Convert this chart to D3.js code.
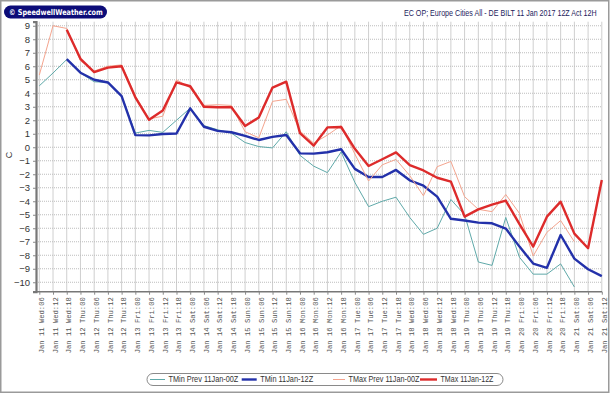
<!DOCTYPE html>
<html>
<head>
<meta charset="utf-8">
<script src="https://cdn.jsdelivr.net/npm/d3@7"></script>
<style>
  html, body { margin: 0; padding: 0; background: #fff; }
  svg { display: block; }
</style>
</head>
<body>
<div id="VisualBox"></div>
<script>
var categories = [
    'Jan 11 Wed:06', 'Jan 11 Wed:12', 'Jan 11 Wed:18',
    'Jan 12 Thu:00', 'Jan 12 Thu:06', 'Jan 12 Thu:12', 'Jan 12 Thu:18',
    'Jan 13 Fri:00', 'Jan 13 Fri:06', 'Jan 13 Fri:12', 'Jan 13 Fri:18',
    'Jan 14 Sat:00', 'Jan 14 Sat:06', 'Jan 14 Sat:12', 'Jan 14 Sat:18',
    'Jan 15 Sun:00', 'Jan 15 Sun:06', 'Jan 15 Sun:12', 'Jan 15 Sun:18',
    'Jan 16 Mon:00', 'Jan 16 Mon:06', 'Jan 16 Mon:12', 'Jan 16 Mon:18',
    'Jan 17 Tue:00', 'Jan 17 Tue:06', 'Jan 17 Tue:12', 'Jan 17 Tue:18',
    'Jan 18 Wed:00', 'Jan 18 Wed:06', 'Jan 18 Wed:12', 'Jan 18 Wed:18',
    'Jan 19 Thu:00', 'Jan 19 Thu:06', 'Jan 19 Thu:12', 'Jan 19 Thu:18',
    'Jan 20 Fri:00', 'Jan 20 Fri:06', 'Jan 20 Fri:12', 'Jan 20 Fri:18',
    'Jan 21 Sat:00', 'Jan 21 Sat:06', 'Jan 21 Sat:12'
];

var tminPrev = [4.55, 5.5, 6.5, 5.5, 4.85, 4.8, 3.8, 1.05, 1.25, 1.1, 2.0,
    2.9, 1.6, 1.3, 1.05, 0.35, 0.05, -0.05, 1.15, -0.6, -1.4,
    -1.88, -0.35, -2.6, -4.4, -4.0, -3.7, -5.2, -6.45, -6.0, -3.87,
    -5.0, -8.5, -8.75, -5.2, -8.15, -9.4, -9.4, -8.64, -10.35, null, null];

var tmin = [null, null, 6.52, 5.52, 5.0, 4.8, 3.78, 0.9, 0.88, 0.98, 1.02,
    2.88, 1.52, 1.21, 1.11, 0.84, 0.54, 0.77, 0.91, -0.45, -0.47,
    -0.37, -0.15, -1.6, -2.2, -2.2, -1.68, -2.45, -2.85, -3.66, -5.3,
    -5.43, -5.58, -5.63, -6.02, -7.36, -8.62, -8.93, -6.5, -8.25, -9.04, -9.55];

var tmaxPrev = [5.35, 9.0, 8.8, 6.4, 5.65, 6.0, 6.1, 3.8, 2.1, 2.3, 5.0,
    4.4, 3.1, 3.15, 3.1, 1.15, 0.7, 3.4, 3.55, 1.2, 0.3,
    0.9, 1.6, -0.5, -2.5, -1.3, -0.9, -2.1, -3.6, -1.44, -1.05,
    -3.66, -4.6, -4.77, -3.5, -4.9, -8.05, -6.3, -5.43, -7.0, null, null];

var tmax = [null, null, 8.7, 6.55, 5.57, 5.9, 6.0, 3.7, 2.03, 2.72, 4.8,
    4.52, 3.0, 2.96, 2.96, 1.58, 2.2, 4.42, 4.86, 1.05, 0.12,
    1.47, 1.5, -0.12, -1.39, -0.89, -0.38, -1.33, -1.72, -2.26, -2.55,
    -5.14, -4.6, -4.25, -3.95, -5.7, -7.36, -5.14, -4.03, -6.4, -7.48, -2.42];

var yTicks = [9, 8, 7, 6, 5, 4, 3, 2, 1, 0, -1, -2, -3, -4, -5, -6, -7, -8, -9, -10];

var seriesNames = ['TMin Prev 11Jan-00Z', 'TMin 11Jan-12Z', 'TMax Prev 11Jan-00Z', 'TMax 11Jan-12Z'];

var series = [
    { name: seriesNames[0], values: tminPrev, color: '#5fa9a9', width: 1 },
    { name: seriesNames[1], values: tmin, color: '#2331aa', width: 2.4 },
    { name: seriesNames[2], values: tmaxPrev, color: '#f4a48e', width: 1 },
    { name: seriesNames[3], values: tmax, color: '#dd2b2b', width: 2.4 }
];

var svgWidth = 610;
var svgHeight = 394;
var plotLeft = 36, plotTop = 21.7, plotBottom = 291.7, plotRight = 602;

// squeeze a text horizontally so it spans the given width
function fitText(sel, width, anchorX) {
    var w = sel.node().getComputedTextLength();
    var k = Math.min(1, width / w);
    sel.attr('transform', 'translate(' + anchorX + ',0) scale(' + k + ',1) translate(' + (-anchorX) + ',0)');
}

var svg = d3.select('#VisualBox').append('svg')
    .attr('width', svgWidth)
    .attr('height', svgHeight);

svg.append('rect')
    .attr('x', 0.75).attr('y', 0.75)
    .attr('width', svgWidth - 2).attr('height', svgHeight - 2.5)
    .attr('fill', '#fff')
    .attr('stroke', '#9a9a9a')
    .attr('stroke-width', 1.5);

var x = d3.scalePoint()
    .domain(categories)
    .range([39.3, 601.8]);

var y = d3.scaleLinear()
    .domain([-10.7, 9.3])
    .range([plotBottom, plotTop]);

// grid
svg.append('g')
    .selectAll('line')
    .data(categories)
    .enter()
    .append('line')
    .attr('x1', function (d) { return x(d); })
    .attr('x2', function (d) { return x(d); })
    .attr('y1', plotTop)
    .attr('y2', plotBottom)
    .attr('stroke', '#cfcfcf')
    .attr('stroke-width', 1);

svg.append('g')
    .selectAll('line')
    .data(yTicks)
    .enter()
    .append('line')
    .attr('x1', plotLeft)
    .attr('x2', plotRight)
    .attr('y1', function (d) { return y(d); })
    .attr('y2', function (d) { return y(d); })
    .attr('stroke', '#bdbdbd')
    .attr('stroke-width', 1)
    .attr('stroke-dasharray', '1,1');

// axes
var yAxis = svg.append('g')
    .attr('transform', 'translate(' + plotLeft + ',0)')
    .call(d3.axisLeft(y).tickValues(yTicks).tickSize(3).tickPadding(3).tickFormat(d3.format('d')));
yAxis.select('.domain').attr('stroke', '#777').attr('stroke-width', 2.2);
yAxis.selectAll('.tick line').attr('stroke', '#888');
yAxis.selectAll('.tick text')
    .attr('fill', '#333')
    .style('font-family', 'Liberation Sans, Arial, sans-serif')
    .style('font-size', '9.5px');

var xAxis = svg.append('g')
    .attr('transform', 'translate(0,' + plotBottom + ')')
    .call(d3.axisBottom(x).tickSize(3).tickFormat(''));
xAxis.select('.domain')
    .attr('d', 'M' + plotLeft + ',0H' + plotRight)
    .attr('stroke', '#777').attr('stroke-width', 1.6);
xAxis.selectAll('.tick line').attr('stroke', '#888');

svg.append('g')
    .selectAll('text')
    .data(categories)
    .enter()
    .append('text')
    .attr('transform', function (d) {
        return 'translate(' + (x(d) + 2.2) + ',' + (plotBottom + 5.5) + ') rotate(-90)';
    })
    .attr('text-anchor', 'end')
    .attr('dy', '0.35em')
    .attr('fill', '#555')
    .style('font-family', 'Liberation Mono, Courier New, monospace')
    .style('font-size', '7.2px')
    .text(function (d) { return d; });

svg.append('text')
    .attr('transform', 'translate(12,155) rotate(-90)')
    .attr('text-anchor', 'middle')
    .attr('fill', '#333')
    .style('font-family', 'Liberation Sans, Arial, sans-serif')
    .style('font-size', '9px')
    .text('C');

// lines
var line = d3.line()
    .defined(function (d) { return d[1] !== null; })
    .x(function (d) { return x(d[0]); })
    .y(function (d) { return y(d[1]); });

svg.append('g')
    .selectAll('path')
    .data(series)
    .enter()
    .append('path')
    .attr('fill', 'none')
    .attr('stroke', function (d) { return d.color; })
    .attr('stroke-width', function (d) { return d.width; })
    .attr('stroke-linejoin', 'round')
    .attr('d', function (d) {
        return line(categories.map(function (c, i) { return [c, d.values[i]]; }));
    });

// header
var logo = svg.append('g');
logo.append('rect')
    .attr('x', 4).attr('y', 5.5)
    .attr('width', 103).attr('height', 13)
    .attr('rx', 6.5)
    .attr('fill', '#0c0c78');
var logoText = logo.append('text')
    .attr('x', 9).attr('y', 15.2)
    .attr('fill', '#fff')
    .style('font-family', 'DejaVu Sans, Verdana, sans-serif')
    .style('font-weight', 'bold')
    .style('font-size', '8px')
    .text('\u00a9 SpeedwellWeather.com');
fitText(logoText, 94, 9);

var title = svg.append('text')
    .attr('x', 404).attr('y', 16.5)
    .attr('fill', '#1c1c5c')
    .style('font-family', 'Liberation Sans, Arial, sans-serif')
    .style('font-size', '8.5px')
    .text('EC OP; Europe Cities All - DE BILT 11 Jan 2017 12Z Act 12H');
fitText(title, 193, 404);

// legend
var legend = svg.append('g');
legend.append('rect')
    .attr('x', 147).attr('y', 373.5)
    .attr('width', 356).attr('height', 12)
    .attr('rx', 6)
    .attr('fill', '#fff')
    .attr('stroke', '#8a8a8a')
    .attr('stroke-width', 1);

var legendX = [150, 241.7, 333, 420];
var legendLen = [15, 15, 12, 17];
var legendTextW = [70, 53, 71, 53];

legend.selectAll('line')
    .data(series)
    .enter()
    .append('line')
    .attr('x1', function (d, i) { return legendX[i]; })
    .attr('x2', function (d, i) { return legendX[i] + legendLen[i]; })
    .attr('y1', 379.5)
    .attr('y2', 379.5)
    .attr('stroke', function (d) { return d.color; })
    .attr('stroke-width', function (d) { return d.width; });

legend.selectAll('text')
    .data(series)
    .enter()
    .append('text')
    .attr('x', function (d, i) { return legendX[i] + legendLen[i] + 3.5; })
    .attr('y', 379.5)
    .attr('dy', '0.35em')
    .attr('fill', '#333')
    .style('font-family', 'Liberation Sans, Arial, sans-serif')
    .style('font-size', '8.5px')
    .text(function (d) { return d.name; })
    .each(function (d, i) {
        fitText(d3.select(this), legendTextW[i], legendX[i] + legendLen[i] + 3.5);
    });
</script>
</body>
</html>
